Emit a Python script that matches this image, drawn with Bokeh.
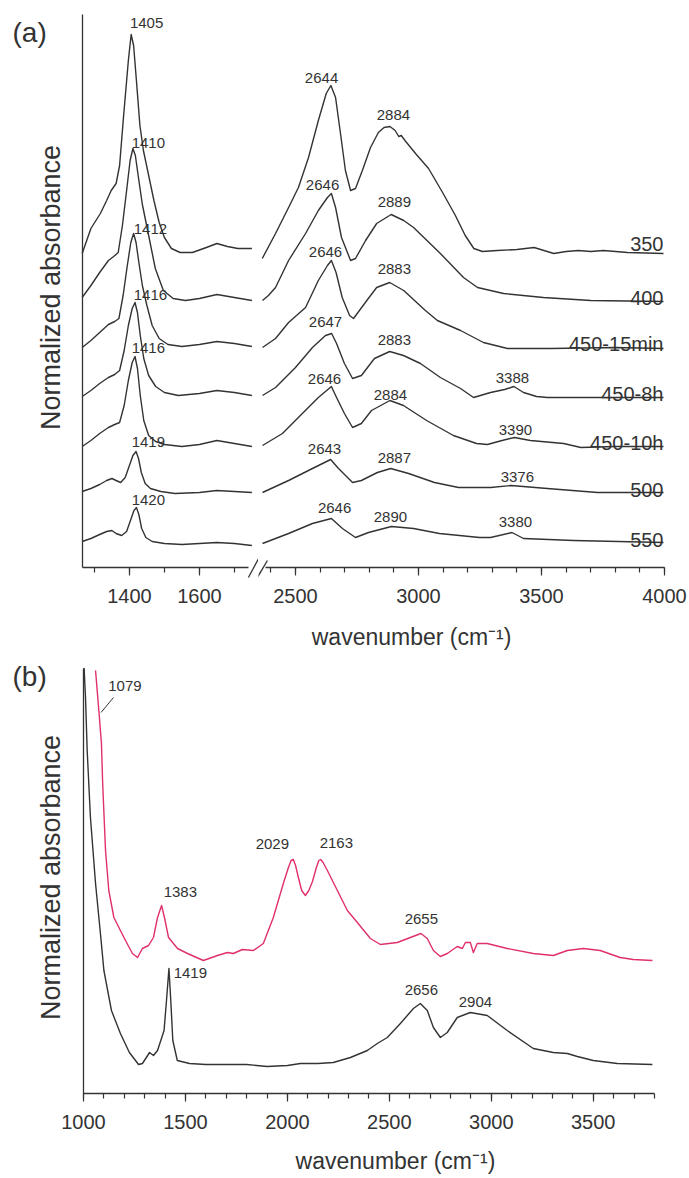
from bokeh.plotting import figure
from bokeh.models import Range1d, FixedTicker, ColumnDataSource
from bokeh.layouts import column, row
from bokeh.core.properties import value
from bokeh.embed import file_html
from bokeh.resources import INLINE

FONT = "Liberation Sans"
INK = "#333333"
RED = "#e0306a"
LW = 1.4

# ---------------- panel (a): stacked spectra (wavenumber, offset absorbance) ----------------
s350_lo_wn = [1265,1290,1317,1335,1348,1362,1372,1383,1397,1405,1412,1420,1430,1440,1455,1470,1485,1500,1520,1545,1580,1620,1650,1680,1710,1750]
s350_lo_ab = [3.14,3.39,3.54,3.67,3.77,3.84,4.02,4.50,5.07,5.33,5.22,4.87,4.42,4.17,3.92,3.67,3.45,3.30,3.19,3.15,3.15,3.20,3.24,3.21,3.19,3.19]
s350_hi_wn = [2365,2419,2472,2512,2553,2593,2625,2644,2663,2683,2703,2724,2744,2772,2805,2837,2860,2884,2905,2920,2930,2945,2988,3041,3098,3150,3190,3225,3260,3320,3400,3470,3510,3550,3600,3650,3700,3752,3850,3996]
s350_hi_ab = [3.09,3.34,3.60,3.80,4.10,4.47,4.74,4.82,4.70,4.34,3.97,3.77,3.79,3.97,4.20,4.35,4.40,4.41,4.37,4.31,4.32,4.27,4.14,3.99,3.75,3.52,3.32,3.19,3.16,3.17,3.18,3.20,3.17,3.14,3.16,3.17,3.16,3.17,3.15,3.14]

s400_lo_wn = [1265,1290,1315,1340,1355,1368,1380,1392,1402,1410,1417,1425,1437,1455,1474,1497,1525,1560,1600,1650,1700,1750]
s400_lo_ab = [2.70,2.82,2.95,3.07,3.11,3.15,3.42,3.77,4.07,4.19,4.12,3.92,3.63,3.32,2.99,2.77,2.69,2.67,2.69,2.73,2.70,2.67]
s400_hi_wn = [2366,2390,2419,2472,2541,2593,2630,2646,2663,2687,2724,2744,2785,2830,2889,2940,2980,3089,3183,3240,3346,3508,3700,3996]
s400_hi_ab = [2.67,2.72,2.80,3.07,3.34,3.57,3.70,3.74,3.60,3.30,3.07,3.09,3.27,3.44,3.53,3.47,3.40,3.14,2.90,2.80,2.74,2.70,2.67,2.66]

s450a_lo_wn = [1265,1290,1315,1340,1358,1370,1382,1394,1404,1412,1419,1427,1437,1450,1465,1485,1510,1550,1600,1650,1700,1750]
s450a_lo_ab = [2.20,2.27,2.35,2.43,2.46,2.49,2.72,3.02,3.25,3.34,3.25,3.05,2.82,2.62,2.42,2.29,2.23,2.21,2.23,2.26,2.24,2.21]
s450a_hi_wn = [2366,2419,2472,2541,2593,2630,2646,2665,2690,2720,2736,2760,2790,2830,2883,2940,3028,3077,3171,3264,3362,3537,3800,3996]
s450a_hi_ab = [2.20,2.29,2.45,2.60,2.87,3.02,3.07,2.95,2.70,2.52,2.49,2.57,2.67,2.80,2.85,2.77,2.57,2.47,2.37,2.25,2.19,2.19,2.20,2.19]

s450b_lo_wn = [1265,1290,1315,1340,1358,1372,1385,1397,1408,1416,1423,1431,1441,1455,1475,1500,1540,1600,1650,1700,1750]
s450b_lo_ab = [1.71,1.77,1.84,1.90,1.93,1.97,2.17,2.42,2.59,2.65,2.55,2.32,2.09,1.92,1.81,1.75,1.72,1.74,1.77,1.75,1.72]
s450b_hi_wn = [2366,2419,2500,2569,2622,2647,2667,2699,2732,2768,2821,2883,2939,3008,3089,3171,3224,3293,3350,3388,3427,3480,3524,3728,3996]
s450b_hi_ab = [1.72,1.80,2.00,2.20,2.32,2.34,2.24,2.04,1.89,1.92,2.09,2.16,2.12,2.04,1.90,1.79,1.70,1.75,1.78,1.81,1.75,1.71,1.70,1.70,1.70]

s450c_lo_wn = [1265,1290,1315,1340,1358,1372,1385,1397,1408,1416,1423,1431,1441,1455,1475,1500,1550,1600,1650,1700,1750]
s450c_lo_ab = [1.21,1.27,1.34,1.40,1.43,1.45,1.62,1.87,2.05,2.11,1.99,1.72,1.47,1.32,1.26,1.23,1.21,1.23,1.27,1.24,1.21]
s450c_hi_wn = [2366,2447,2528,2593,2646,2667,2699,2732,2768,2809,2884,2939,3033,3142,3236,3280,3340,3390,3455,3590,3660,3800,3996]
s450c_hi_ab = [1.22,1.34,1.54,1.70,1.81,1.70,1.54,1.40,1.44,1.57,1.67,1.62,1.47,1.32,1.24,1.23,1.27,1.30,1.27,1.24,1.20,1.21,1.21]

s500_lo_wn = [1265,1290,1315,1335,1350,1362,1375,1388,1400,1410,1419,1426,1434,1445,1460,1490,1530,1600,1650,1700,1750]
s500_lo_ab = [0.76,0.79,0.83,0.87,0.89,0.87,0.85,0.90,1.02,1.12,1.16,1.09,0.95,0.84,0.79,0.76,0.74,0.75,0.77,0.76,0.75]
s500_hi_wn = [2366,2472,2569,2643,2675,2732,2768,2833,2887,2960,3065,3163,3293,3376,3524,3728,3996]
s500_hi_ab = [0.75,0.87,0.99,1.08,0.99,0.85,0.87,0.95,0.99,0.94,0.85,0.80,0.80,0.82,0.79,0.75,0.75]

s550_lo_wn = [1265,1290,1315,1335,1350,1362,1378,1392,1405,1413,1420,1427,1435,1447,1465,1500,1550,1600,1650,1700,1750]
s550_lo_ab = [0.26,0.29,0.33,0.36,0.37,0.34,0.32,0.36,0.49,0.57,0.60,0.53,0.39,0.30,0.26,0.24,0.23,0.24,0.25,0.24,0.22]
s550_hi_wn = [2366,2472,2569,2646,2691,2744,2797,2890,2980,3085,3248,3293,3380,3427,3630,3996]
s550_hi_ab = [0.24,0.34,0.44,0.49,0.39,0.30,0.35,0.41,0.39,0.34,0.30,0.30,0.35,0.29,0.27,0.25]

a_names = ["350", "400", "450-15min", "450-8h", "450-10h", "500", "550"]
a_name_y = [3.24, 2.70, 2.24, 1.74, 1.25, 0.78, 0.28]

a_lo_pk_text = ["1405", "1410", "1412", "1416", "1416", "1419", "1420"]
a_lo_pk_x = [1449, 1454, 1460, 1460, 1454, 1454, 1454]
a_lo_pk_y = [5.45, 4.25, 3.39, 2.73, 2.20, 1.26, 0.68]
a_hi_pk_text = ["2644", "2646", "2646", "2647", "2646", "2643", "2646",
                "2884", "2889", "2883", "2883", "2884", "2887", "2890",
                "3388", "3390", "3376", "3380"]
a_hi_pk_x = [2606, 2610, 2622, 2622, 2618, 2618, 2659,
             2898, 2902, 2902, 2902, 2886, 2902, 2886,
             3382, 3394, 3402, 3394]
a_hi_pk_y = [4.90, 3.83, 3.16, 2.46, 1.89, 1.19, 0.60,
             4.53, 3.66, 2.99, 2.28, 1.73, 1.10, 0.51,
             1.90, 1.38, 0.91, 0.46]

a_lo_ticks = [1400, 1600]
a_lo_minor = [1300, 1400, 1500, 1600, 1700]
a_hi_ticks = [2500, 3000, 3500, 4000]
a_hi_minor = list(range(2400, 4001, 100))

# ---------------- panel (b) ----------------
red_wn = [1059,1076,1088,1094,1108,1124,1149,1181,1206,1240,1265,1289,1319,1343,1363,1383,1397,1417,1461,1510,1588,1657,1706,1735,1779,1833,1882,1931,1980,2005,2018,2029,2040,2054,2070,2088,2105,2123,2142,2154,2163,2175,2196,2245,2294,2343,2407,2456,2539,2603,2655,2686,2716,2750,2784,2833,2858,2873,2897,2912,2931,2980,3078,3206,3304,3373,3451,3534,3632,3696,3790]
red_ab = [4.23,3.81,3.50,3.10,2.43,2.03,1.76,1.63,1.53,1.40,1.36,1.45,1.48,1.56,1.76,1.88,1.76,1.56,1.45,1.40,1.33,1.38,1.41,1.40,1.44,1.43,1.50,1.76,2.10,2.26,2.33,2.34,2.28,2.16,2.03,1.98,2.03,2.12,2.26,2.33,2.34,2.31,2.23,2.03,1.83,1.71,1.55,1.49,1.51,1.56,1.60,1.55,1.43,1.37,1.40,1.47,1.45,1.51,1.51,1.41,1.50,1.50,1.45,1.40,1.38,1.43,1.45,1.43,1.36,1.34,1.33]
black_wn = [1000,1003,1010,1018,1034,1059,1083,1100,1137,1181,1225,1270,1289,1324,1343,1363,1395,1407,1419,1428,1438,1460,1520,1600,1800,1900,2000,2064,2150,2225,2309,2392,2441,2490,2554,2618,2652,2686,2716,2750,2784,2833,2897,2980,3078,3206,3304,3373,3422,3500,3618,3790]
black_ab = [4.21,4.25,3.95,3.43,2.76,2.10,1.60,1.23,0.83,0.60,0.41,0.29,0.30,0.41,0.38,0.43,0.63,0.93,1.25,0.93,0.53,0.33,0.30,0.29,0.29,0.27,0.28,0.30,0.30,0.31,0.36,0.43,0.50,0.56,0.70,0.85,0.90,0.83,0.66,0.56,0.61,0.76,0.81,0.78,0.63,0.45,0.41,0.40,0.37,0.33,0.30,0.29]

b_pk_text = ["1079", "1383", "2029", "2163", "2655", "2656", "2904"]
b_pk_x = [1203, 1475, 1926, 2240, 2657, 2657, 2922]
b_pk_y = [4.08, 2.02, 2.50, 2.51, 1.75, 1.04, 0.92]
b_ticks = [1000, 1500, 2000, 2500, 3000, 3500]
b_minor = list(range(1000, 3801, 100))


def base_style(p):
    p.xgrid.visible = False
    p.ygrid.visible = False
    p.outline_line_color = None
    p.background_fill_color = "white"
    p.border_fill_color = "white"


def style_x(ax, majors, minors, bounds):
    ax.fixed_location = 0
    ax.ticker = FixedTicker(ticks=majors, minor_ticks=minors)
    ax.bounds = bounds
    ax.axis_line_color = INK
    ax.axis_line_width = 1.3
    ax.major_tick_line_color = INK
    ax.minor_tick_line_color = INK
    ax.major_tick_line_width = 1.2
    ax.minor_tick_line_width = 1.2
    ax.major_tick_in = 0
    ax.major_tick_out = 8
    ax.minor_tick_in = 0
    ax.minor_tick_out = 5
    ax.major_label_text_font = FONT
    ax.major_label_text_font_size = "20px"
    ax.major_label_text_color = INK
    ax.major_label_standoff = 13


def style_y(ax, loc, bounds):
    ax.fixed_location = loc
    ax.bounds = bounds
    ax.ticker = FixedTicker(ticks=[])
    ax.axis_line_color = INK
    ax.axis_line_width = 1.3


def add_text(p, xs, ys, texts, size, align="center", baseline="middle", angle=0.0):
    src = ColumnDataSource(dict(x=xs, y=ys, text=texts))
    p.text(x="x", y="y", text="text", source=src, text_font=value(FONT), angle=angle,
           text_font_size=size, text_color=INK, text_align=align, text_baseline=baseline)


def make_fig(w, h, xr, yr, **kw):
    p = figure(width=w, height=h, x_range=xr, y_range=yr, output_backend="svg",
               toolbar_location=None, min_border_left=0, min_border_right=0,
               min_border_top=0, min_border_bottom=0, **kw)
    base_style(p)
    return p


# ---- panel (a) ----
yr_a = Range1d(-0.88, 5.67)
p1 = make_fig(258, 655, Range1d(1031.7, 1768.8), yr_a)
style_x(p1.xaxis[0], a_lo_ticks, a_lo_minor, (1266, 1740))
style_y(p1.yaxis[0], 1266, (0, 5.53))

p2 = make_fig(431, 655, Range1d(2349.7, 4101.7), yr_a, y_axis_location=None)
style_x(p2.xaxis[0], a_hi_ticks, a_hi_minor, (2378, 4000))

lo_sets = [(s350_lo_wn, s350_lo_ab), (s400_lo_wn, s400_lo_ab), (s450a_lo_wn, s450a_lo_ab),
           (s450b_lo_wn, s450b_lo_ab), (s450c_lo_wn, s450c_lo_ab), (s500_lo_wn, s500_lo_ab),
           (s550_lo_wn, s550_lo_ab)]
hi_sets = [(s350_hi_wn, s350_hi_ab), (s400_hi_wn, s400_hi_ab), (s450a_hi_wn, s450a_hi_ab),
           (s450b_hi_wn, s450b_hi_ab), (s450c_hi_wn, s450c_hi_ab), (s500_hi_wn, s500_hi_ab),
           (s550_hi_wn, s550_hi_ab)]
for wn, ab in lo_sets:
    p1.line(wn, ab, line_color=INK, line_width=LW, line_join="round")
for wn, ab in hi_sets:
    p2.line(wn, ab, line_color=INK, line_width=LW, line_join="round")

add_text(p1, a_lo_pk_x, a_lo_pk_y, a_lo_pk_text, "15px")
add_text(p2, a_hi_pk_x, a_hi_pk_y, a_hi_pk_text, "15px")
add_text(p2, [3996] * len(a_names), a_name_y, a_names, "20px", align="right", baseline="alphabetic")
add_text(p1, [1066], [5.51], ["(a)"], "28px", align="left", baseline="top")
add_text(p1, [1177], [2.80], ["Normalized absorbance"], "27px", angle=1.5708)
add_text(p2, [2972], [-0.69], ["wavenumber (cm\u207b\u00b9)"], "23px")
# axis-break marks
p1.segment(x0=[1740], y0=[-0.10], x1=[1769], y1=[0.09], line_color=INK, line_width=1.3)
p2.segment(x0=[2345], y0=[-0.10], x1=[2386], y1=[0.07], line_color=INK, line_width=1.3)

# ---- panel (b) ----
p3 = make_fig(689, 523, Range1d(592.9, 3972.0), Range1d(-0.85, 4.38))
style_x(p3.xaxis[0], b_ticks, b_minor, (1000, 3800))
style_y(p3.yaxis[0], 1000, (0, 4.25))
p3.line(red_wn, red_ab, line_color=RED, line_width=LW, line_join="round")
p3.line(black_wn, black_ab, line_color=INK, line_width=LW, line_join="round")
p3.segment(x0=[1147], y0=[3.96], x1=[1086], y1=[3.81], line_color=INK, line_width=1.0)
add_text(p3, b_pk_x, b_pk_y, b_pk_text, "15px")
add_text(p3, [1442], [1.21], ["1419"], "15px", align="left")
add_text(p3, [651.8], [4.33], ["(b)"], "28px", align="left", baseline="top")
add_text(p3, [842], [2.16], ["Normalized absorbance"], "27px", angle=1.5708)
add_text(p3, [2530], [-0.67], ["wavenumber (cm\u207b\u00b9)"], "23px")

layout = column(row(p1, p2), p3)
open("out.html", "w").write(file_html(layout, INLINE))
